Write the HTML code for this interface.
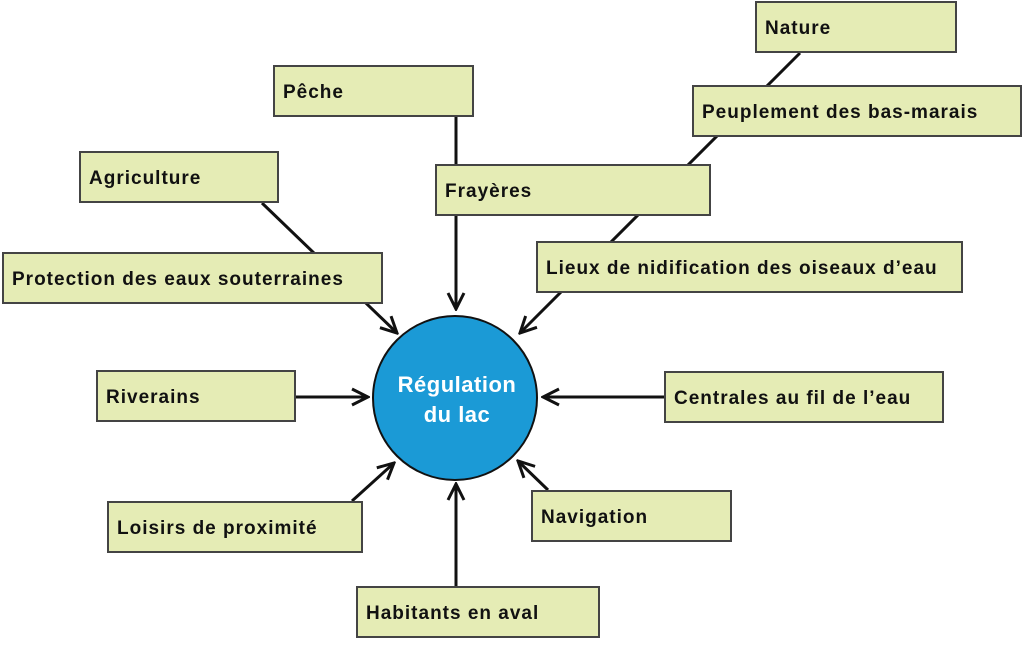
<!DOCTYPE html>
<html><head><meta charset="utf-8"><style>
body{margin:0;background:#fff;width:1024px;height:654px;overflow:hidden}
svg{position:absolute;left:0;top:0}
.b{position:absolute;background:#e5ecb5;border:2px solid #444;box-sizing:border-box;font-family:"Liberation Sans",sans-serif;font-weight:bold;font-size:19px;letter-spacing:1px;color:#111;padding-left:8px;padding-top:4px;display:flex;align-items:center;white-space:nowrap}
</style></head><body>
<svg width="1024" height="654">
<defs><marker id="a" viewBox="0 0 20 20" refX="18" refY="10" markerWidth="20" markerHeight="20" markerUnits="userSpaceOnUse" orient="auto"><path d="M2,2 L18,10 L2,18" fill="none" stroke="#111" stroke-width="3"/></marker></defs>
<g stroke="#111" stroke-width="3" fill="none">
<line x1="800" y1="53" x2="520" y2="333" marker-end="url(#a)"/>
<line x1="262" y1="203" x2="397" y2="333" marker-end="url(#a)"/>
<line x1="456" y1="117" x2="456" y2="309" marker-end="url(#a)"/>
<line x1="296" y1="397" x2="368" y2="397" marker-end="url(#a)"/>
<line x1="664" y1="397" x2="543" y2="397" marker-end="url(#a)"/>
<line x1="352" y1="501" x2="394" y2="463" marker-end="url(#a)"/>
<line x1="548" y1="490" x2="518" y2="461" marker-end="url(#a)"/>
<line x1="456" y1="586" x2="456" y2="484" marker-end="url(#a)"/>
</g>
<circle cx="455" cy="398" r="82" fill="#1b9ad6" stroke="#111" stroke-width="2"/>
<text x="457" y="392" text-anchor="middle" font-family="Liberation Sans,sans-serif" font-weight="bold" font-size="22" letter-spacing="0.5" fill="#fff">Régulation</text>
<text x="457" y="422" text-anchor="middle" font-family="Liberation Sans,sans-serif" font-weight="bold" font-size="22" letter-spacing="0.5" fill="#fff">du lac</text>
</svg>
<div class="b" style="left:755px;top:1px;width:202px;height:52px">Nature</div>
<div class="b" style="left:273px;top:65px;width:201px;height:52px">Pêche</div>
<div class="b" style="left:692px;top:85px;width:330px;height:52px">Peuplement des bas-marais</div>
<div class="b" style="left:79px;top:151px;width:200px;height:52px">Agriculture</div>
<div class="b" style="left:435px;top:164px;width:276px;height:52px">Frayères</div>
<div class="b" style="left:2px;top:252px;width:381px;height:52px">Protection des eaux souterraines</div>
<div class="b" style="left:536px;top:241px;width:427px;height:52px">Lieux de nidification des oiseaux d’eau</div>
<div class="b" style="left:96px;top:370px;width:200px;height:52px">Riverains</div>
<div class="b" style="left:664px;top:371px;width:280px;height:52px">Centrales au fil de l’eau</div>
<div class="b" style="left:107px;top:501px;width:256px;height:52px">Loisirs de proximité</div>
<div class="b" style="left:531px;top:490px;width:201px;height:52px">Navigation</div>
<div class="b" style="left:356px;top:586px;width:244px;height:52px">Habitants en aval</div>
</body></html>
